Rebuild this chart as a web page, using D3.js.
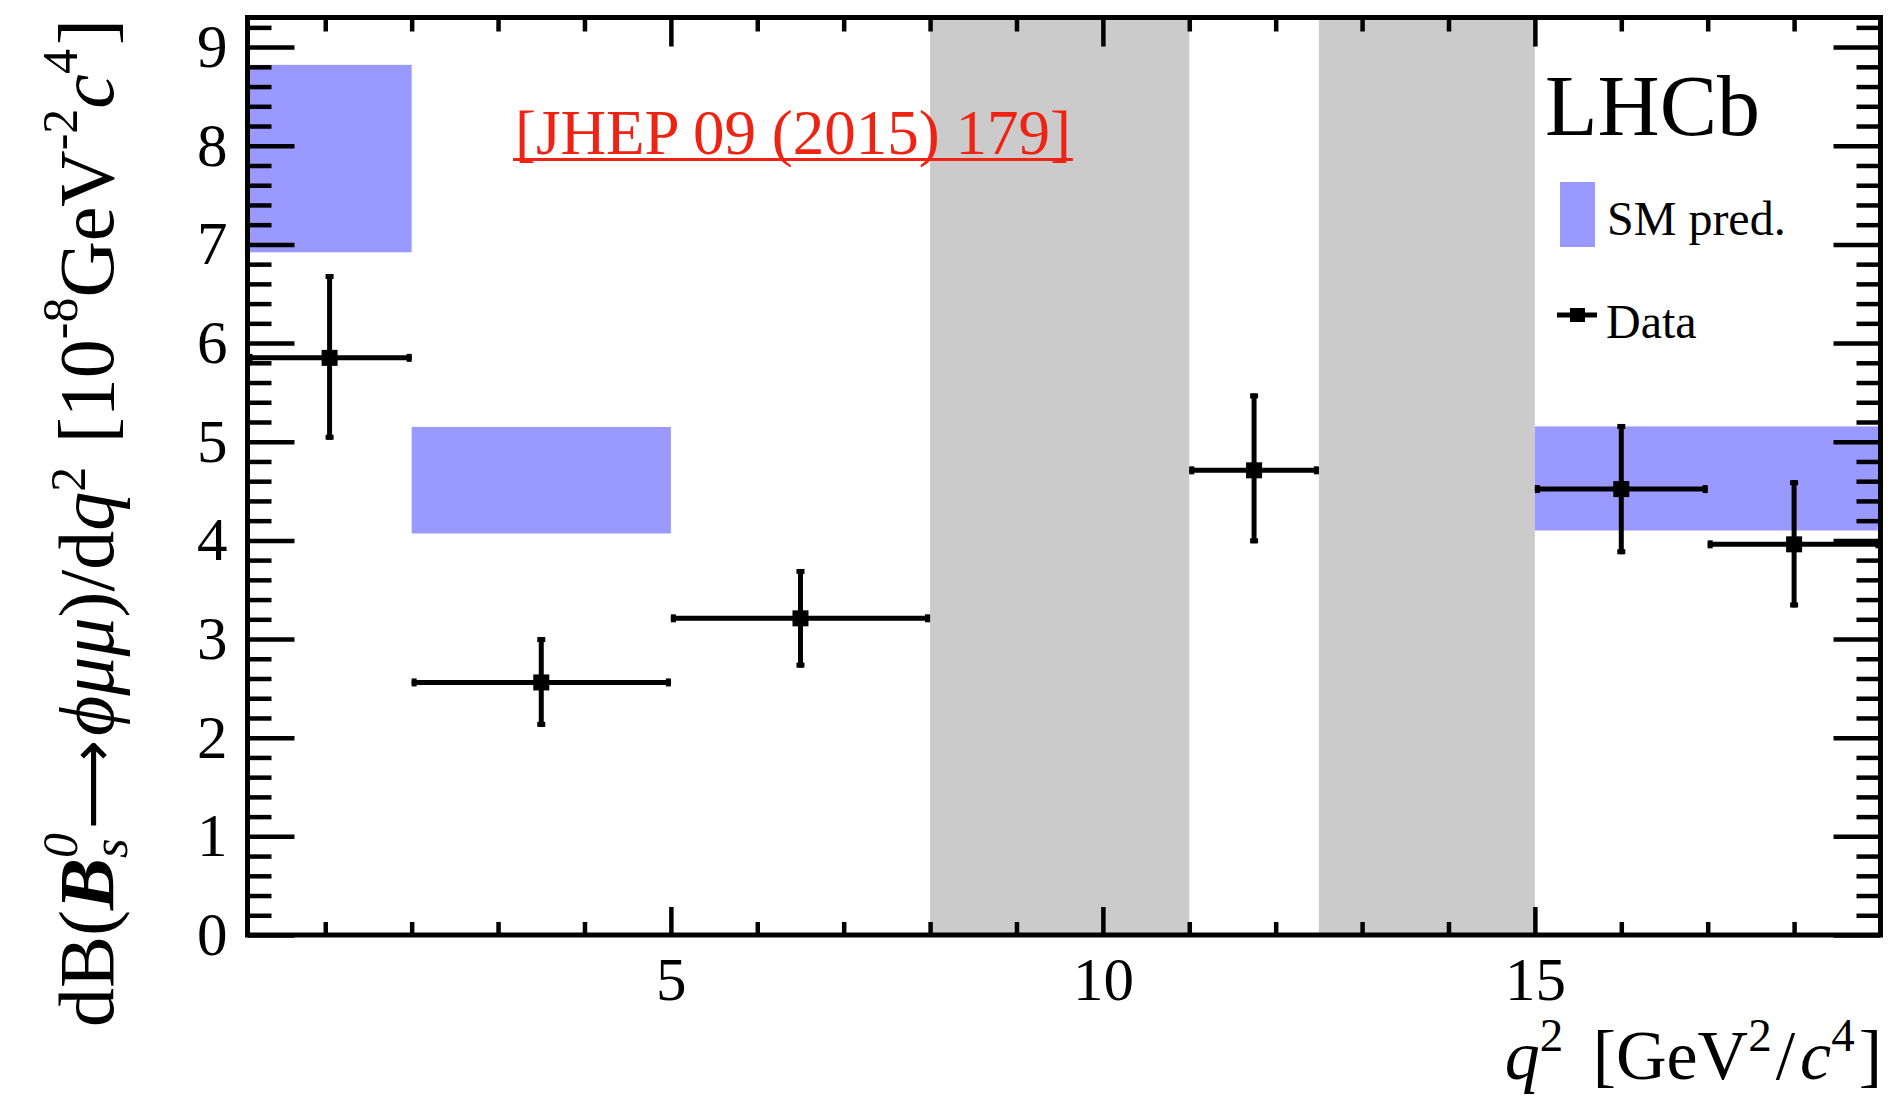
<!DOCTYPE html>
<html>
<head>
<meta charset="utf-8">
<script src="https://cdn.jsdelivr.net/npm/d3@7"></script>
<style>
  html, body { margin: 0; padding: 0; background: #ffffff; }
  svg { display: block; }
</style>
</head>
<body>
<script>
// Differential branching fraction of Bs0 -> phi mu mu in bins of q^2
const binLow   = [0.1, 2.0, 5.0, 11.0, 15.0, 17.0];
const binHigh  = [2.0, 5.0, 8.0, 12.5, 17.0, 19.0];
const values   = [5.85, 2.56, 3.21, 4.71, 4.52, 3.96];
const errUp    = [0.85, 0.46, 0.50, 0.78, 0.66, 0.65];
const errDown  = [0.83, 0.45, 0.50, 0.74, 0.66, 0.64];

// Standard Model prediction bands
const smLow  = [0.1, 2.0, 15.0];
const smHigh = [2.0, 5.0, 19.0];
const smMin  = [6.92, 4.07, 4.10];
const smMax  = [8.82, 5.15, 5.155];

// Charmonium veto regions
const vetoLow  = [8.0, 12.5];
const vetoHigh = [11.0, 15.0];

// Axis ticks
const xMajor = [5, 10, 15];
const xMinor = d3.range(1, 19).filter(v => v % 5 !== 0);
const yMajor = d3.range(0, 10);
const yMinor = d3.range(0, 47).map(i => +(i * 0.2).toFixed(1)).filter(v => Math.abs(v - Math.round(v)) > 1e-6);

const FONT = "'Liberation Serif', 'Times New Roman', serif";
const BLUE = "#9999ff";
const GREY = "#cbcbcb";
const RED  = "#ef2313";

const W = 1901, H = 1102;
const frame = { left: 247.5, right: 1880.5, top: 17.5, bottom: 935 };

const svg = d3.select("body").append("svg")
  .attr("width", W).attr("height", H)
  .style("font-family", FONT);

const x = d3.scaleLinear().domain([0.1, 19]).range([frame.left, frame.right]);
const y = d3.scaleLinear().domain([0, 9.3]).range([frame.bottom, frame.top]);

// Veto regions
svg.append("g").selectAll("rect").data(d3.zip(vetoLow, vetoHigh)).join("rect")
  .attr("x", d => x(d[0])).attr("width", d => x(d[1]) - x(d[0]))
  .attr("y", frame.top).attr("height", frame.bottom - frame.top)
  .attr("fill", GREY);

// SM bands
svg.append("g").selectAll("rect").data(d3.zip(smLow, smHigh, smMin, smMax)).join("rect")
  .attr("x", d => x(d[0])).attr("width", d => x(d[1]) - x(d[0]))
  .attr("y", d => y(d[3])).attr("height", d => y(d[2]) - y(d[3]))
  .attr("fill", BLUE);

// Reference label
const ref = svg.append("text")
  .attr("x", 515).attr("y", 154)
  .attr("font-size", 63).attr("fill", RED)
  .text("[JHEP 09 (2015) 179]");
const refLen = ref.node().getComputedTextLength();
svg.append("line")
  .attr("x1", 513).attr("x2", 515 + refLen + 2)
  .attr("y1", 159.5).attr("y2", 159.5)
  .attr("stroke", RED).attr("stroke-width", 3);

// Data points with error bars
const pts = binLow.map((lo, i) => ({
  lo, hi: binHigh[i], v: values[i], up: errUp[i], dn: errDown[i], c: (lo + binHigh[i]) / 2
}));
const gData = svg.append("g").attr("fill", "#000").attr("stroke", "#000");
const LW = 5, CAP = 8, MK = 16;
pts.forEach(p => {
  const g = gData.append("g");
  g.append("line").attr("x1", x(p.lo)).attr("x2", x(p.hi)).attr("y1", y(p.v)).attr("y2", y(p.v)).attr("stroke-width", LW);
  g.append("line").attr("x1", x(p.c)).attr("x2", x(p.c)).attr("y1", y(p.v + p.up)).attr("y2", y(p.v - p.dn)).attr("stroke-width", LW);
  // end caps
  g.append("rect").attr("stroke", "none").attr("x", x(p.lo)).attr("y", y(p.v) - CAP / 2).attr("width", 5).attr("height", CAP);
  g.append("rect").attr("stroke", "none").attr("x", x(p.hi) - 5).attr("y", y(p.v) - CAP / 2).attr("width", 5).attr("height", CAP);
  g.append("rect").attr("stroke", "none").attr("x", x(p.c) - CAP / 2).attr("y", y(p.v + p.up)).attr("width", CAP).attr("height", 5);
  g.append("rect").attr("stroke", "none").attr("x", x(p.c) - CAP / 2).attr("y", y(p.v - p.dn) - 5).attr("width", CAP).attr("height", 5);
  // marker
  g.append("rect").attr("stroke", "none").attr("x", x(p.c) - MK / 2).attr("y", y(p.v) - MK / 2).attr("width", MK).attr("height", MK);
});

// Ticks (drawn inward on all four sides)
function ticks(axisGen, tx, ty) {
  const g = svg.append("g").attr("transform", `translate(${tx},${ty})`).call(axisGen);
  g.select(".domain").remove();
  g.selectAll(".tick line").attr("stroke", "#000").attr("stroke-width", 4.5);
  g.selectAll(".tick text").remove();
  return g;
}
ticks(d3.axisRight(y).tickValues(yMajor).tickSize(47), frame.left, 0);
ticks(d3.axisRight(y).tickValues(yMinor).tickSize(24), frame.left, 0);
ticks(d3.axisLeft(y).tickValues(yMajor).tickSize(47), frame.right, 0);
ticks(d3.axisLeft(y).tickValues(yMinor).tickSize(24), frame.right, 0);
ticks(d3.axisTop(x).tickValues(xMajor).tickSize(28), 0, frame.bottom);
ticks(d3.axisTop(x).tickValues(xMinor).tickSize(13), 0, frame.bottom);
ticks(d3.axisBottom(x).tickValues(xMajor).tickSize(29), 0, frame.top);
ticks(d3.axisBottom(x).tickValues(xMinor).tickSize(14), 0, frame.top);

// Tick labels
function labels(axisGen, tx, ty) {
  const g = svg.append("g").attr("transform", `translate(${tx},${ty})`).call(axisGen);
  g.select(".domain").remove();
  g.selectAll(".tick line").remove();
  g.attr("font-family", FONT).attr("font-size", 61);
  g.selectAll(".tick text").attr("fill", "#000");
  return g;
}
labels(d3.axisLeft(y).tickValues(yMajor).tickSize(0).tickPadding(20).tickFormat(d3.format("d")), frame.left, 0);
labels(d3.axisBottom(x).tickValues(xMajor).tickSize(0).tickPadding(22).tickFormat(d3.format("d")), 0, frame.bottom);

// Frame
svg.append("rect")
  .attr("x", frame.left).attr("y", frame.top)
  .attr("width", frame.right - frame.left).attr("height", frame.bottom - frame.top)
  .attr("fill", "none").attr("stroke", "#000").attr("stroke-width", 5);

// Rich text helper: parts with optional size, italic, bold, family, raise (px), back (stack over previous)
function richText(textSel, parts) {
  let raise = 0, prev = null;
  parts.forEach(p => {
    const ts = textSel.append("tspan").text(p.t);
    if (p.size) ts.attr("font-size", p.size);
    if (p.italic) ts.attr("font-style", "italic");
    if (p.bold) ts.attr("font-weight", "bold");
    if (p.family) ts.attr("font-family", p.family);
    const r = p.raise || 0;
    if (r !== raise) { ts.attr("dy", -(r - raise)); raise = r; }
    let dx = p.dx || 0;
    if (p.back && prev) dx -= prev.node().getComputedTextLength();
    if (dx) ts.attr("dx", dx);
    prev = ts;
  });
  return textSel;
}

// Y axis title
const yTitle = svg.append("text")
  .attr("transform", "translate(113,1027) rotate(-90)")
  .attr("font-size", 78).attr("fill", "#000");
richText(yTitle, [
  { t: "dB(" },
  { t: "B", italic: true, bold: true },
  { t: "s", italic: true, size: 50, raise: -14 },
  { t: "0", italic: true, size: 50, raise: 36, back: true },
  { t: "\u27F6", raise: 0, family: "'DejaVu Sans', sans-serif", size: 62, dx: 4 },
  { t: "\u03D5", italic: true, dx: 4 },
  { t: "\u03BC\u03BC", italic: true },
  { t: ")/d" },
  { t: "q", italic: true },
  { t: "2", size: 50, raise: 28 },
  { t: " [10", raise: 0, dx: 4 },
  { t: "-8", size: 50, raise: 36 },
  { t: "GeV", raise: 0 },
  { t: "-2", size: 50, raise: 36 },
  { t: "c", italic: true, raise: 0 },
  { t: "4", size: 50, raise: 36 },
  { t: "]", raise: 0, dx: 4 }
]);

// X axis title
const xTitle = svg.append("text")
  .attr("x", 1882).attr("y", 1079)
  .attr("text-anchor", "end")
  .attr("font-size", 70).attr("fill", "#000");
richText(xTitle, [
  { t: "q", italic: true },
  { t: "2", size: 47, raise: 28 },
  { t: " [GeV", raise: 0, dx: 12 },
  { t: "2", size: 47, raise: 28 },
  { t: "/", raise: 0, dx: 4 },
  { t: "c", italic: true, dx: 5 },
  { t: "4", size: 47, raise: 28 },
  { t: "]", raise: 0, dx: 4 }
]);

// Experiment label
svg.append("text").attr("x", 1545).attr("y", 135)
  .attr("font-size", 86).attr("fill", "#000").text("LHCb");

// Legend
svg.append("rect").attr("x", 1560).attr("y", 182).attr("width", 35).attr("height", 65).attr("fill", BLUE);
svg.append("text").attr("x", 1607).attr("y", 235).attr("font-size", 48).attr("fill", "#000").text("SM pred.");
svg.append("line").attr("x1", 1557).attr("x2", 1597).attr("y1", 315).attr("y2", 315)
  .attr("stroke", "#000").attr("stroke-width", 5);
svg.append("rect").attr("x", 1570).attr("y", 308).attr("width", 15).attr("height", 14).attr("fill", "#000");
svg.append("text").attr("x", 1606).attr("y", 338).attr("font-size", 48).attr("fill", "#000").text("Data");
</script>
</body>
</html>
